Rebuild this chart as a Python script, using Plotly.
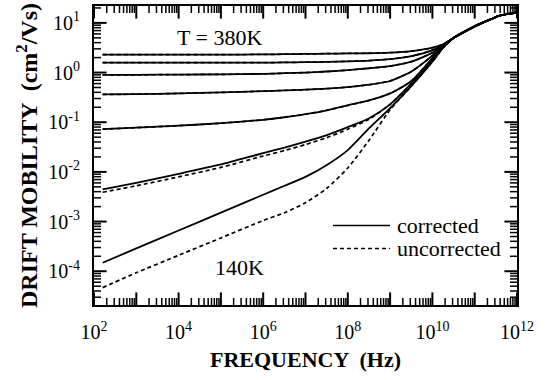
import plotly.graph_objects as go

# Frequency grid (Hz) shared by all curves
freq = [1.6e2, 1e3, 1e4, 1e5, 1e6, 3.2e6, 1e7, 3.2e7, 1e8, 3.2e8, 1e9,
        3.2e9, 1e10, 1.8e10, 3.2e10, 1e11, 2.5e11, 4e11, 1e12]

# Drift mobility (cm^2/Vs), corrected
mu_380 = [2.29, 2.29, 2.29, 2.29, 2.32, 2.34, 2.37, 2.40, 2.43, 2.45, 2.51,
          2.69, 3.16, 3.72, 5.0, 8.5, 12.0, 14.1, 16.2]
mu_340 = [1.58, 1.58, 1.58, 1.58, 1.58, 1.60, 1.62, 1.64, 1.68, 1.74, 1.86,
          2.14, 2.82, 3.63, 5.0, 8.5, 12.0, 14.1, 16.2]
mu_300 = [0.90, 0.90, 0.91, 0.92, 0.94, 0.97, 1.0, 1.05, 1.12, 1.22, 1.35,
          1.66, 2.51, 3.55, 5.0, 8.5, 12.0, 14.1, 16.2]
mu_260 = [0.363, 0.367, 0.380, 0.398, 0.422, 0.437, 0.452, 0.473, 0.507, 0.569, 0.676,
          1.05, 2.19, 3.47, 5.0, 8.5, 12.0, 14.1, 16.2]
mu_220 = [0.0724, 0.0776, 0.0851, 0.0955, 0.112, 0.126, 0.145, 0.174, 0.219, 0.275, 0.380,
          0.676, 1.95, 3.31, 5.0, 8.5, 12.0, 14.1, 16.2]
mu_180 = [0.00447, 0.00603, 0.00912, 0.0141, 0.0240, 0.0309, 0.0407, 0.0550, 0.0794, 0.120, 0.229,
          0.603, 1.78, 3.24, 5.0, 8.5, 12.0, 14.1, 16.2]
mu_140 = [1.48e-4, 2.88e-4, 6.61e-4, 1.51e-3, 3.47e-3, 5.25e-3, 7.94e-3, 0.0138, 0.0275, 0.0759, 0.191,
          0.537, 1.66, 3.16, 5.0, 8.5, 12.0, 14.1, 16.2]

# Drift mobility (cm^2/Vs), uncorrected
mu_380_u = mu_380
mu_340_u = mu_340
mu_300_u = mu_300
mu_260_u = mu_260
mu_220_u = mu_220
mu_180_u = [0.00389, 0.00525, 0.00794, 0.0123, 0.0209, 0.0269, 0.0355, 0.0490, 0.0724, 0.115, 0.229,
            0.603, 1.78, 3.24, 5.0, 8.5, 12.0, 14.1, 16.2]
mu_140_u = [4.68e-5, 9.33e-5, 2.09e-4, 4.68e-4, 1.05e-3, 1.51e-3, 2.40e-3, 4.68e-3, 0.0120, 0.0437, 0.178,
            0.537, 1.66, 3.16, 5.0, 8.5, 12.0, 14.1, 16.2]

corrected = [mu_380, mu_340, mu_300, mu_260, mu_220, mu_180, mu_140]
uncorrected = [mu_380_u, mu_340_u, mu_300_u, mu_260_u, mu_220_u, mu_180_u, mu_140_u]

WIDTH, HEIGHT = 548, 380
MARGIN = dict(l=94, r=31, t=4, b=75)
X_RANGE = [2, 12]          # log10 Hz
Y_RANGE = [-4.68, 1.34]    # log10 cm^2/Vs
FONT = "Liberation Serif"

x_decades = list(range(2, 13))
y_decades = list(range(-4, 2))
x_major = [10 ** k for k in x_decades]
x_labels = ["10<sup>%d</sup>" % k if k % 2 == 0 else "" for k in x_decades]
y_major = [10.0 ** k for k in y_decades]
y_labels = ["10<sup>%d</sup>" % k for k in y_decades]
x_minor = [m * 10 ** k for k in x_decades[:-1] for m in range(2, 10)]
y_minor = [m * 10.0 ** k for k in range(-5, 2) for m in range(2, 10)
           if 10 ** Y_RANGE[0] < m * 10.0 ** k < 10 ** Y_RANGE[1]]

fig = go.Figure()
for ys in uncorrected:
    fig.add_trace(go.Scatter(
        x=freq, y=ys, mode="lines", showlegend=False, hoverinfo="skip",
        line=dict(color="black", width=1.7, dash="4px,3px",
                  shape="spline", smoothing=0.6)))
for ys in corrected:
    fig.add_trace(go.Scatter(
        x=freq, y=ys, mode="lines", showlegend=False,
        line=dict(color="black", width=1.8, shape="spline", smoothing=0.6)))

# Inward ticks: line-shaped markers centred on the frame; the half lying
# outside the plot area is clipped away, leaving a tick pointing inward.
y_lo, y_hi = 10 ** Y_RANGE[0], 10 ** Y_RANGE[1]
x_lo, x_hi = 10 ** X_RANGE[0], 10 ** X_RANGE[1]
for vals, length, width in ((x_major, 9, 2.0), (x_minor, 5, 1.5)):
    fig.add_trace(go.Scatter(
        x=vals + vals, y=[y_lo] * len(vals) + [y_hi] * len(vals),
        mode="markers", showlegend=False, hoverinfo="skip", cliponaxis=True,
        marker=dict(symbol="line-ns-open", size=2 * length, color="black",
                    line=dict(width=width, color="black"))))
for vals, length, width in ((y_major, 9, 2.0), (y_minor, 5, 1.5)):
    fig.add_trace(go.Scatter(
        x=[x_lo] * len(vals) + [x_hi] * len(vals), y=vals + vals,
        mode="markers", showlegend=False, hoverinfo="skip", cliponaxis=True,
        marker=dict(symbol="line-ew-open", size=2 * length, color="black",
                    line=dict(width=width, color="black"))))

axis_base = dict(
    type="log", showgrid=False, zeroline=False,
    showline=True, linecolor="black", linewidth=2, mirror=True,
    ticks="", tickmode="array",
    tickfont=dict(family=FONT, size=20, color="black"),
)
fig.update_xaxes(
    **axis_base, range=X_RANGE, tickvals=x_major, ticktext=x_labels,
    ticklabelstandoff=8,
    title=dict(text="<b>FREQUENCY  (Hz)</b>", standoff=10,
               font=dict(family=FONT, size=22, color="black")),
)
fig.update_yaxes(
    **axis_base, range=Y_RANGE, tickvals=y_major, ticktext=y_labels,
    ticklabelstandoff=8,
    title=dict(text="<b>DRIFT MOBILITY  (cm<sup>2</sup>/Vs)</b>", standoff=4,
               font=dict(family=FONT, size=24, color="black")),
)

# Legend: line samples and labels
legend_rows = [("corrected", "solid", 0.266), ("uncorrected", "4px,3px", 0.189)]
for label, dash, yp in legend_rows:
    fig.add_shape(type="line", xref="paper", yref="paper",
                  x0=0.565, x1=0.700, y0=yp, y1=yp,
                  line=dict(color="black", width=1.6, dash=dash))
    fig.add_annotation(x=0.712, y=yp, xref="paper", yref="paper", text=label,
                       xanchor="left", yanchor="middle", showarrow=False,
                       font=dict(family=FONT, size=22, color="black"))

fig.add_annotation(x=4.96, y=0.71, xref="x", yref="y", text="T = 380K",
                   showarrow=False, font=dict(family=FONT, size=22, color="black"))
fig.add_annotation(x=5.45, y=-3.92, xref="x", yref="y", text="140K",
                   showarrow=False, font=dict(family=FONT, size=22, color="black"))

fig.update_layout(
    width=WIDTH, height=HEIGHT,
    margin=MARGIN,
    paper_bgcolor="white", plot_bgcolor="white",
    showlegend=False,
)

fig.write_html("out.html")
